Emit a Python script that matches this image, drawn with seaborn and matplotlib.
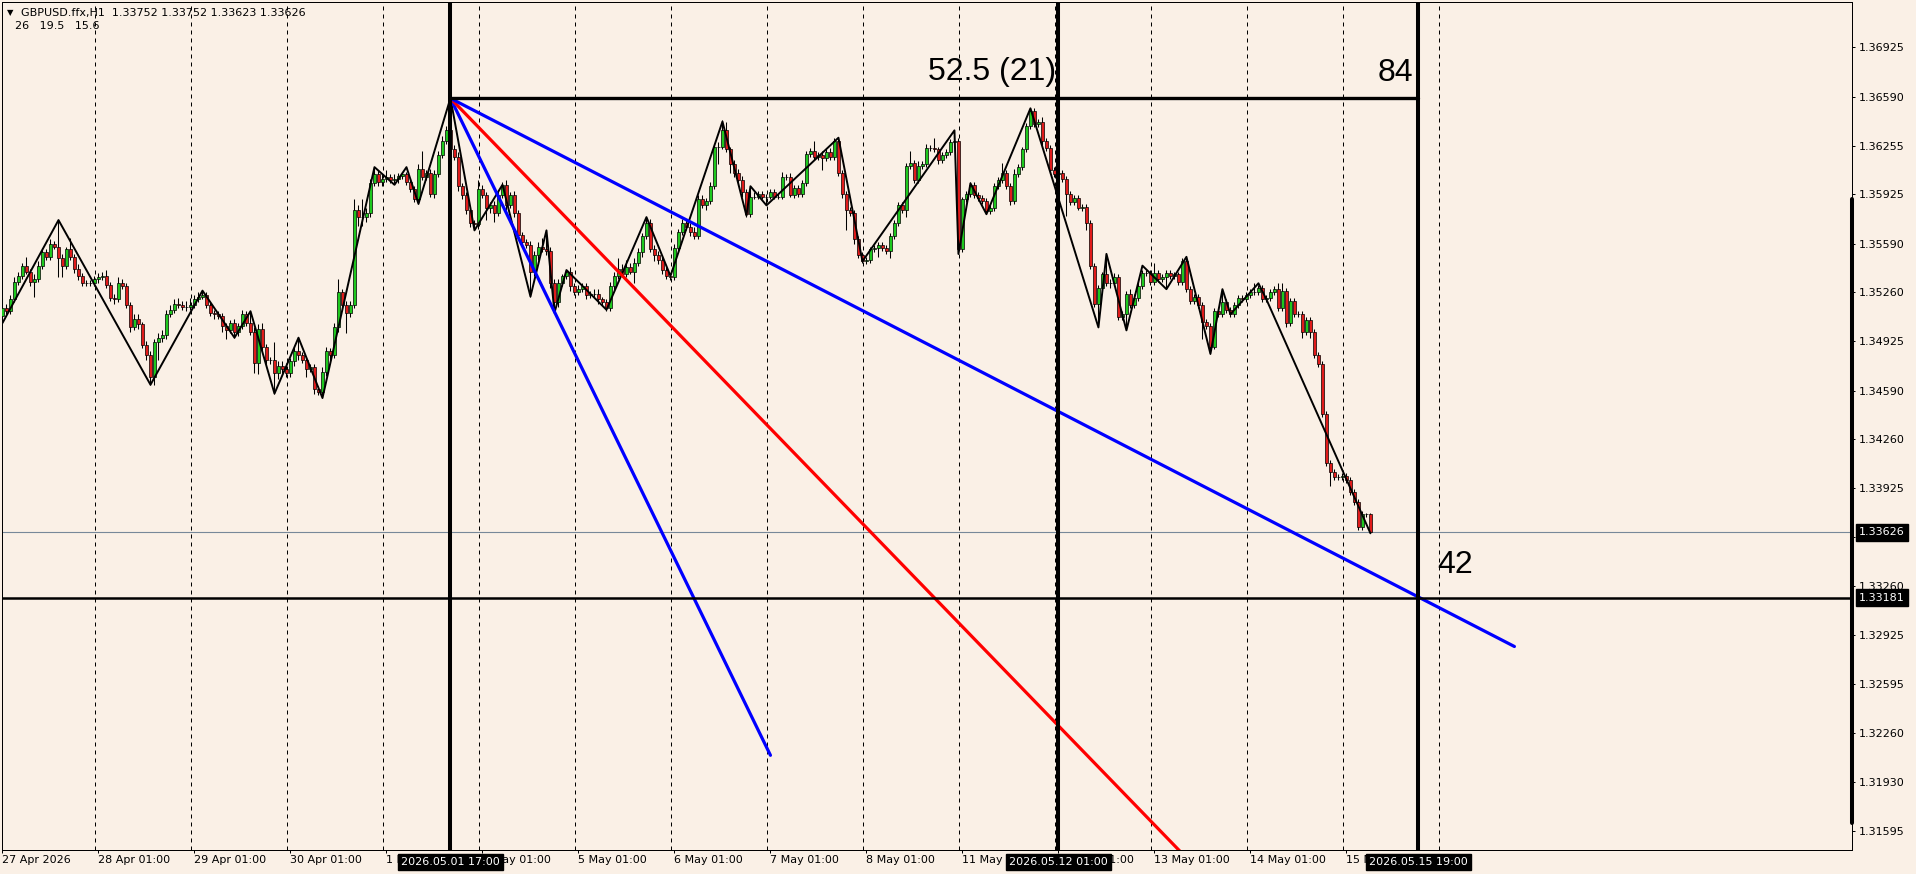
import numpy as np
import pandas as pd
import matplotlib
matplotlib.use("Agg")
import matplotlib.pyplot as plt
import seaborn as sns

# ---------------- data (prices in pips above 1.3000) ----------------
BASE = 1.3
PIP = 0.0001
open0 = 510
closes = [
    515, 513, 521, 533, 537, 544, 540, 533, 535, 544, 553, 550, 559, 557, 549, 544, 555, 550, 542, 537, 532, 532, 532, 535,
    536, 537, 531, 522, 521, 532, 530, 517, 502, 508, 504, 490, 483, 468, 492, 495, 497, 511, 514, 518, 517, 516, 516, 517,
    521, 523, 524, 517, 512, 511, 510, 503, 500, 505, 499, 503, 511, 505, 499, 478, 501, 489, 480, 480, 471, 476, 474, 471,
    479, 486, 483, 480, 474, 475, 460, 458, 472, 486, 483, 502, 526, 517, 512, 517, 582, 577, 577, 580, 600, 606, 601, 603,
    604, 602, 603, 605, 606, 601, 596, 589, 610, 604, 607, 593, 606, 619, 629, 636, 623, 618, 598, 592, 582, 573, 572, 596,
    592, 583, 585, 580, 592, 599, 585, 592, 580, 565, 560, 558, 540, 551, 557, 555, 554, 532, 519, 532, 537, 540, 530, 526,
    528, 530, 524, 525, 525, 521, 519, 515, 530, 537, 542, 538, 543, 540, 546, 553, 564, 573, 555, 551, 548, 541, 537, 536,
    556, 567, 573, 570, 567, 564, 589, 585, 588, 598, 625, 625, 636, 623, 613, 607, 602, 594, 579, 591, 591, 593, 591, 591,
    594, 591, 591, 604, 604, 592, 597, 593, 600, 620, 622, 618, 619, 617, 621, 618, 629, 607, 593, 582, 580, 562, 551, 547,
    548, 555, 556, 558, 556, 554, 564, 573, 585, 582, 612, 614, 602, 612, 613, 624, 624, 623, 616, 619, 621, 628, 629, 555,
    589, 593, 599, 592, 590, 588, 581, 583, 598, 602, 607, 598, 588, 606, 611, 623, 639, 649, 640, 642, 629, 624, 609, 606,
    607, 603, 593, 587, 590, 583, 584, 573, 544, 518, 529, 538, 532, 532, 536, 509, 511, 525, 517, 522, 530, 539, 539, 533,
    539, 535, 536, 539, 537, 538, 533, 547, 528, 520, 523, 517, 506, 503, 489, 513, 511, 519, 514, 511, 517, 522, 521, 524,
    526, 526, 529, 521, 522, 526, 528, 515, 527, 505, 520, 511, 511, 499, 507, 499, 483, 477, 443, 410, 404, 400, 400, 401,
    398, 390, 383, 366, 375, 375, 363,
]
wick_up = [
    7, 3, 3, 3, 3, 2, 6, 2, 3, 3, 3, 2, 3, 2, 18, 3, 2, 8, 2, 3, 2, 2, 2, 2,
    3, 3, 4, 2, 3, 4, 3, 2, 2, 3, 3, 2, 3, 3, 2, 3, 3, 3, 3, 3, 4, 3, 4, 5,
    3, 3, 3, 2, 2, 2, 2, 2, 2, 2, 3, 2, 3, 2, 8, 3, 3, 4, 2, 2, 12, 3, 3, 4,
    2, 3, 9, 2, 2, 2, 2, 2, 3, 3, 2, 3, 9, 2, 3, 3, 7, 3, 12, 3, 3, 5, 3, 3,
    5, 2, 3, 2, 2, 2, 2, 2, 3, 12, 2, 3, 3, 3, 3, 3, 22, 3, 3, 2, 2, 2, 2, 6,
    3, 2, 2, 3, 3, 2, 3, 2, 3, 2, 2, 2, 3, 3, 3, 6, 13, 3, 3, 3, 1, 1, 3, 2,
    3, 2, 2, 2, 3, 3, 2, 2, 3, 3, 7, 3, 5, 3, 3, 3, 2, 4, 3, 3, 3, 3, 2, 2,
    3, 2, 3, 3, 3, 3, 3, 3, 2, 3, 2, 3, 7, 6, 2, 3, 3, 3, 2, 7, 3, 2, 2, 2,
    2, 2, 2, 4, 2, 3, 2, 2, 2, 2, 2, 7, 2, 3, 2, 3, 2, 2, 2, 2, 2, 2, 2, 2,
    2, 2, 2, 2, 2, 2, 2, 2, 2, 2, 2, 8, 2, 3, 2, 3, 2, 7, 2, 2, 2, 2, 7, 2,
    2, 2, 2, 2, 2, 2, 2, 2, 2, 2, 7, 2, 2, 4, 2, 2, 2, 2, 2, 2, 3, 2, 2, 2,
    2, 2, 2, 2, 2, 2, 2, 2, 2, 2, 2, 2, 14, 3, 3, 2, 2, 2, 3, 3, 3, 2, 2, 2,
    7, 2, 2, 2, 2, 2, 2, 2, 3, 2, 2, 2, 2, 2, 2, 2, 2, 9, 2, 2, 2, 2, 2, 2,
    2, 6, 2, 2, 2, 2, 2, 4, 5, 2, 2, 2, 2, 2, 2, 2, 2, 2, 2, 2, 2, 2, 2, 2,
    2, 2, 2, 2, 2, 1, 1,
]
wick_dn = [
    1, 2, 2, 2, 2, 2, 2, 3, 10, 2, 2, 2, 2, 2, 13, 8, 2, 2, 3, 3, 2, 2, 2, 2,
    3, 2, 2, 2, 3, 2, 2, 2, 3, 2, 3, 2, 3, 5, 5, 12, 3, 3, 2, 2, 2, 2, 3, 2,
    2, 2, 2, 2, 2, 3, 2, 4, 6, 2, 4, 3, 2, 2, 2, 7, 8, 3, 3, 3, 14, 4, 3, 3,
    3, 3, 3, 2, 6, 2, 3, 2, 4, 3, 3, 2, 3, 3, 14, 3, 2, 6, 6, 3, 3, 2, 3, 3,
    2, 2, 2, 3, 2, 2, 2, 2, 3, 2, 2, 2, 3, 2, 2, 2, 2, 2, 3, 3, 3, 3, 4, 3,
    2, 8, 3, 6, 2, 2, 3, 2, 3, 2, 2, 2, 17, 3, 3, 2, 3, 3, 7, 3, 2, 2, 3, 2,
    2, 2, 3, 2, 2, 3, 2, 2, 2, 3, 2, 2, 2, 2, 8, 2, 3, 2, 2, 4, 3, 3, 2, 2,
    2, 3, 2, 2, 3, 2, 2, 2, 3, 2, 2, 12, 2, 2, 6, 3, 3, 3, 2, 2, 2, 2, 2, 6,
    2, 2, 2, 2, 2, 1, 2, 2, 2, 2, 2, 2, 2, 8, 2, 2, 2, 2, 3, 14, 2, 3, 2, 1,
    2, 2, 2, 6, 2, 2, 5, 2, 2, 2, 5, 2, 2, 2, 2, 2, 2, 2, 3, 2, 2, 2, 2, 3,
    2, 2, 2, 2, 2, 2, 2, 2, 2, 2, 2, 2, 3, 2, 2, 2, 2, 2, 2, 2, 3, 2, 2, 2,
    2, 2, 15, 2, 2, 1, 2, 5, 2, 2, 16, 2, 2, 3, 2, 2, 2, 11, 2, 2, 2, 2, 2, 2,
    2, 2, 2, 8, 2, 2, 2, 2, 2, 2, 2, 2, 12, 2, 5, 2, 2, 2, 2, 2, 2, 2, 2, 2,
    2, 2, 2, 2, 2, 2, 2, 2, 2, 3, 2, 2, 2, 4, 2, 4, 2, 2, 2, 2, 10, 2, 2, 2,
    2, 2, 2, 2, 2, 2, 1,
]
zz_bars = [0, 14, 37, 50, 58, 62, 68, 74, 80, 93, 98, 101, 104, 112, 118, 125, 132, 136, 138, 141,
           151, 161, 167, 180, 186, 187, 191, 209, 215, 238, 239, 242, 246, 257, 274, 276, 281, 285,
           291, 296, 302, 305, 307, 314, 316, 342]
zz_pips = [505, 575, 463, 527, 495, 513, 457, 495, 454, 611, 599, 611, 586, 658, 568, 599, 523, 568, 512, 541,
           514, 577, 537, 642, 578, 598, 585, 631, 547, 636, 552, 600, 579, 651, 502, 552, 500, 544,
           528, 550, 484, 528, 511, 532, 521, 362]

day_labels = ["27 Apr 2026", "28 Apr 01:00", "29 Apr 01:00", "30 Apr 01:00", "1 May 01:00",
              "4 May 01:00", "5 May 01:00", "6 May 01:00", "7 May 01:00", "8 May 01:00",
              "11 May 01:00", "12 May 01:00", "13 May 01:00", "14 May 01:00", "15 May 01:00"]
highlight_labels = ["2026.05.01 17:00", "2026.05.12 01:00", "2026.05.15 19:00"]
vline_bars = [112, 264, 354]
top_level = 1.36578
target_level = 1.33181
bid_price = 1.33626
fan_start_bar = 112
fan_end_bars = [192, 300, 378]
fan_end_prices = [1.32110, 1.31300, 1.32850]
fan_colors = ["#0000ff", "#ff0000", "#0000ff"]
edge_line_prices = [1.35890, 1.31652]
price_ticks = [1.36925, 1.36590, 1.36255, 1.35925, 1.35590, 1.35260, 1.34925, 1.34590, 1.34260,
               1.33925, 1.33595, 1.33260, 1.32925, 1.32595, 1.32260, 1.31930, 1.31595]
big_labels = ["52.5 (21)", "84", "42"]
header_line1 = "GBPUSD.ffx,H1  1.33752 1.33752 1.33623 1.33626"
header_line2 = "26   19.5   15.6"

# ---------------- style ----------------
sns.set_style("white")
plt.rcParams["font.family"] = ["DejaVu Sans"]
plt.rcParams["text.color"] = "black"
BG = "#FAF0E6"
GREEN = "#1ec81e"
RED = "#e01b1b"

W, H = 1916, 874
fig = plt.figure(figsize=(W / 100, H / 100), dpi=100)
fig.patch.set_facecolor(BG)
ax = fig.add_axes([2.3 / W, (H - 850) / H, (1852 - 2.3) / W, (850 - 2.3) / H])
ax.set_facecolor(BG)

xmin, xmax = -0.05, 462.4
ymin, ymax = 1.31466, 1.37231

# day gridlines
for k in range(1, 16):
    ax.axvline(24 * k - 0.75, color="black", lw=0.72, ls=(0, (4, 4)), zorder=1)

# bid line
ax.axhline(bid_price, color="#778899", lw=0.8, zorder=2)

# candles
c = np.array(closes) * PIP + BASE
o = np.concatenate([[open0 * PIP + BASE], c[:-1]])
hi = np.maximum(o, c) + np.array(wick_up) * PIP
lo = np.minimum(o, c) - np.array(wick_dn) * PIP
x = np.arange(len(c))
up = c >= o
ax.vlines(x, lo, hi, color="black", lw=0.75, zorder=3)
ax.bar(x[up], (c - o)[up], bottom=o[up], width=0.75, color=GREEN, edgecolor="black", lw=0.5, zorder=4)
ax.bar(x[~up], (o - c)[~up], bottom=c[~up], width=0.75, color=RED, edgecolor="black", lw=0.5, zorder=4)

# zigzag
zz = pd.DataFrame({"bar": zz_bars, "price": np.array(zz_pips) * PIP + BASE})
sns.lineplot(data=zz, x="bar", y="price", ax=ax, color="black", lw=1.4, sort=False,
             estimator=None, zorder=5)

# fan lines
for eb, ep, col in zip(fan_end_bars, fan_end_prices, fan_colors):
    d = pd.DataFrame({"bar": [fan_start_bar, eb], "price": [top_level, ep]})
    sns.lineplot(data=d, x="bar", y="price", ax=ax, color=col, lw=2.3, sort=False,
                 estimator=None, zorder=6)

# thick verticals / horizontals
for b in vline_bars:
    ax.axvline(b, color="black", lw=2.9, zorder=7)
ax.plot([vline_bars[0], vline_bars[2]], [top_level, top_level], color="black", lw=2.4, zorder=7)
ax.axhline(target_level, color="black", lw=1.8, zorder=7)
ax.plot([xmax, xmax], edge_line_prices, color="black", lw=2.9, zorder=8, clip_on=False)

# big labels
ax.text(263.5, 1.36757, big_labels[0], ha="right", va="center", fontsize=23,
        family="Liberation Sans", color="black", zorder=9)
ax.text(352.6, 1.36750, big_labels[1], ha="right", va="center", fontsize=23,
        family="Liberation Sans", color="black", zorder=9)
ax.text(358.8, 1.33407, big_labels[2], ha="left", va="center", fontsize=23,
        family="Liberation Sans", color="black", zorder=9)

ax.set_xlim(xmin, xmax)
ax.set_ylim(ymin, ymax)
ax.set_xlabel("")
ax.set_ylabel("")

# axes ticks
ax.set_xticks([24 * k for k in range(len(day_labels))])
ax.set_xticklabels(day_labels, ha="left", fontsize=8)
ax.tick_params(axis="x", length=2.2, width=0.72, pad=1.5, direction="out", colors="black",
               bottom=True)
ax.yaxis.tick_right()
ax.set_yticks(price_ticks)
ax.set_yticklabels([f"{p:.5f}" for p in price_ticks], fontsize=8)
ax.tick_params(axis="y", length=2.2, width=0.72, pad=2.5, direction="out", colors="black",
               right=True, left=False)
for s in ax.spines.values():
    s.set_color("black")
    s.set_linewidth(0.72)
    s.set_visible(True)

# highlighted time boxes
for b, lbl in zip(vline_bars, highlight_labels):
    ax.annotate(lbl, xy=(b, 0), xycoords=("data", "axes fraction"), xytext=(0, -8.8),
                textcoords="offset points", ha="center", va="center", color="white",
                fontsize=8, zorder=10, annotation_clip=False,
                bbox=dict(boxstyle="square,pad=0.25", fc="black", ec="black"))

# price boxes
for p in [bid_price, target_level]:
    ax.annotate(f"{p:.5f}", xy=(1, p), xycoords=("axes fraction", "data"), xytext=(5, 0),
                textcoords="offset points", ha="left", va="center", color="white",
                fontsize=8, zorder=10, annotation_clip=False,
                bbox=dict(boxstyle="square,pad=0.3", fc="black", ec="black"))

# header
fig.text(7 / W, 1 - 12.7 / H, "\u25bc", fontsize=6, va="center", ha="left", color="black")
fig.text(21 / W, 1 - 12.7 / H, header_line1, fontsize=8, va="center", ha="left", color="black")
fig.text(15 / W, 1 - 26 / H, header_line2, fontsize=8, va="center", ha="left", color="black")

fig.savefig("out.png", dpi=100, facecolor=BG)
